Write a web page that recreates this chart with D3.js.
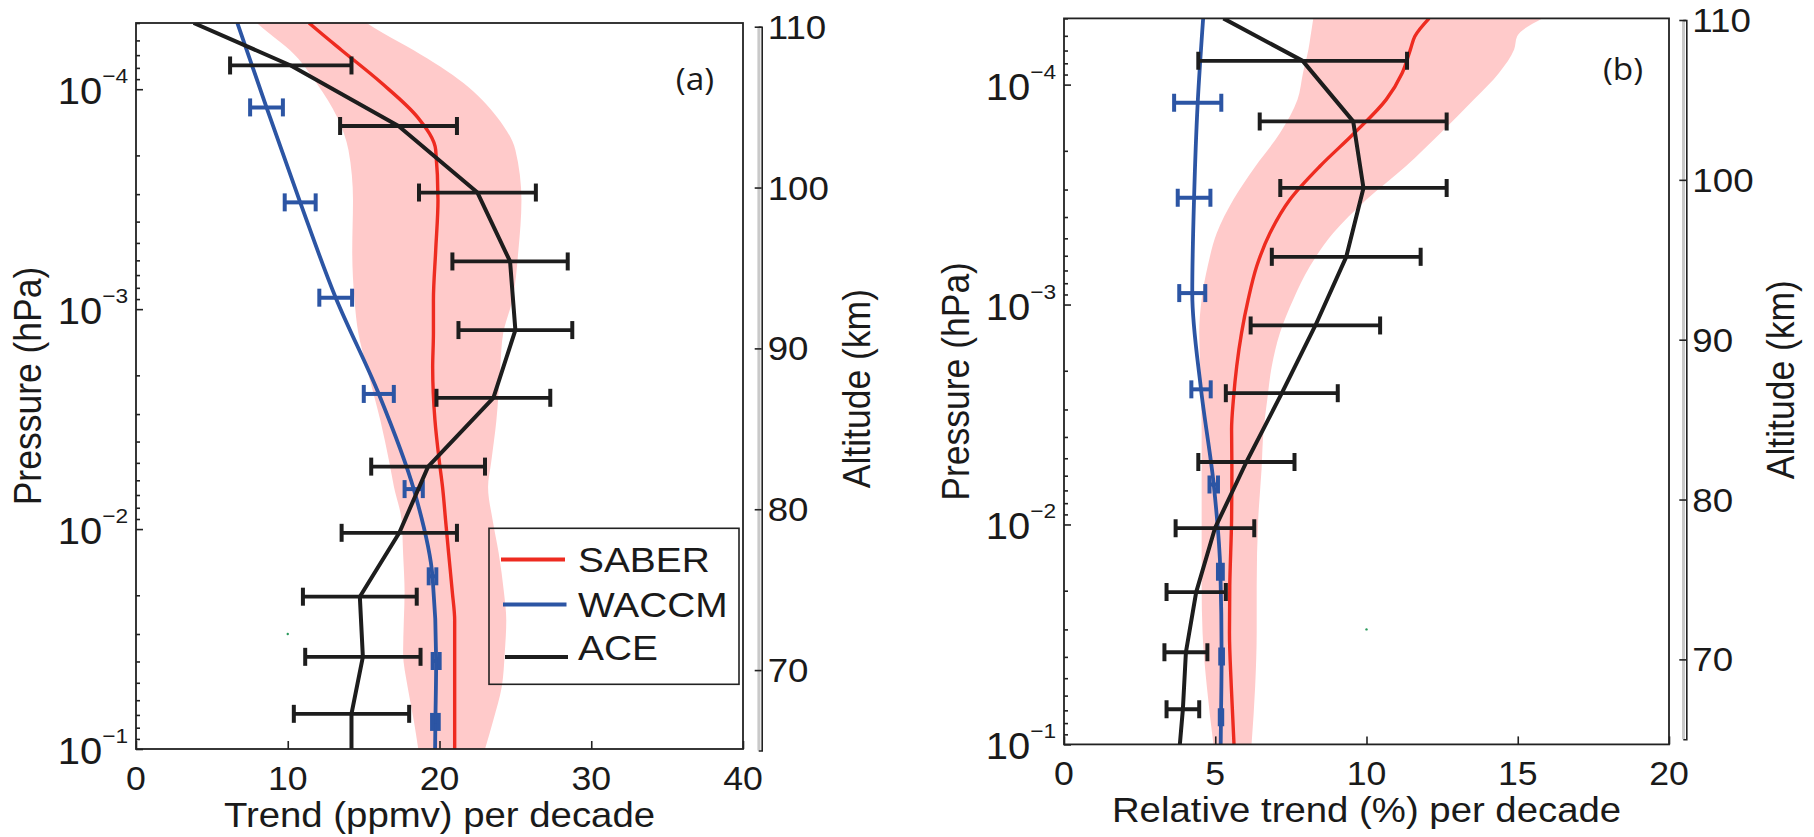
<!DOCTYPE html>
<html>
<head>
<meta charset="utf-8">
<script src="https://cdn.jsdelivr.net/npm/d3@7"></script>
<style>
  body { margin: 0; background: #fff; }
  svg { display: block; }
  text { font-family: "Liberation Sans", Arial, Helvetica, sans-serif; fill: #1a1a1a; }
</style>
</head>
<body>
<svg id="chart" width="1814" height="837"></svg>
<script>
// ---- data -------------------------------------------------------------
// pressure range of both panels (hPa) and matching altitude range (km)
const presDomain = [5e-5, 0.1];
const altDomain = [65, 110];

// ACE-FTS levels (hPa), trends and 2-sigma errors
const acePres = [7.8e-5, 1.47e-4, 2.95e-4, 6.07e-4, 1.245e-3, 2.53e-3, 5.2e-3, 1.04e-2, 2.03e-2, 3.81e-2, 6.92e-2];
const aceAbs = [10.2, 17.3, 22.5, 24.65, 25.0, 23.55, 19.25, 17.35, 14.75, 14.95, 14.2];
const aceAbsErr = [4.0, 3.85, 3.85, 3.8, 3.75, 3.75, 3.75, 3.8, 3.75, 3.8, 3.8];
const aceAbsEnds = [3.8, 14.2];          // profile values at top / bottom of the pressure range
const aceRel = [7.89, 9.56, 9.9, 9.33, 8.31, 7.2, 6.03, 4.99, 4.37, 4.03, 3.93];
const aceRelErr = [3.45, 3.09, 2.75, 2.46, 2.14, 1.85, 1.59, 1.30, 0.98, 0.71, 0.54];
const aceRelEnds = [5.27, 3.83];

// WACCM levels (hPa), trends and errors
const waccmPres = [1.21e-4, 3.27e-4, 8.87e-4, 2.43e-3, 6.58e-3, 1.64e-2, 3.98e-2, 7.53e-2];
const waccmAbs = [8.6, 10.82, 13.16, 16.0, 18.3, 19.54, 19.78, 19.73];
const waccmAbsErr = [1.08, 1.02, 1.08, 0.99, 0.6, 0.25, 0.23, 0.22];
const waccmAbsEnds = [6.68, 19.71];
const waccmRel = [4.42, 4.30, 4.24, 4.53, 4.95, 5.17, 5.21, 5.19];
const waccmRelErr = [0.78, 0.54, 0.43, 0.32, 0.14, 0.08, 0.045, 0.04];
const waccmRelEnds = [4.6, 5.18];

// SABER trend profile with its uncertainty envelope, absolute (ppmv/decade)
const saberPresAbs = [5.0e-5, 5.57e-5, 6.65e-5, 9.4e-5, 1.34e-4, 1.89e-4, 3.2e-4, 5.4e-4, 9.1e-4, 1.285e-3, 1.84e-3,
  3.2e-3, 5.0e-3, 6.44e-3, 9.1e-3, 1.285e-2, 1.95e-2, 2.6e-2, 3.66e-2, 5.22e-2, 7.38e-2, 0.1];
const saberAbs = [11.4, 12.2, 13.55, 16.2, 18.55, 19.75, 19.9, 19.75, 19.6, 19.6, 19.55,
  19.7, 20.0, 20.2, 20.4, 20.6, 20.85, 21.0, 21.0, 21.0, 21.0, 21.0];
const saberAbsLow = [7.96, 8.77, 10.15, 11.9, 13.26, 14.0, 14.3, 14.25, 14.4, 14.65, 15.2,
  16.1, 16.7, 17.0, 17.5, 17.6, 17.7, 17.65, 17.6, 17.9, 18.3, 18.6];
const saberAbsHigh = [15.2, 16.3, 18.3, 21.6, 23.8, 25.0, 25.4, 25.2, 24.8, 24.2, 24.0,
  23.75, 23.4, 23.2, 23.5, 23.9, 24.25, 24.4, 24.3, 24.1, 23.55, 23.0];

// SABER relative trend (%/decade)
const saberPresRel = [5.0e-5, 6.03e-5, 6.93e-5, 8.85e-5, 1.17e-4, 1.66e-4, 2.35e-4, 3.33e-4, 4.73e-4, 6.7e-4, 9.48e-4,
  1.345e-3, 1.905e-3, 2.7e-3, 3.7e-3, 5.62e-3, 9.48e-3, 1.91e-2, 3.11e-2, 5.43e-2, 0.1];
const saberRel = [12.07, 11.6, 11.45, 11.18, 10.65, 9.6, 8.46, 7.47, 6.81, 6.37, 6.09,
  5.87, 5.71, 5.6, 5.54, 5.55, 5.54, 5.48, 5.47, 5.53, 5.62];
const saberRelLow = [8.24, 8.15, 8.08, 7.9, 7.72, 7.14, 6.33, 5.6, 5.05, 4.75, 4.55,
  4.47, 4.5, 4.53, 4.55, 4.55, 4.55, 4.55, 4.58, 4.72, 4.94];
const saberRelHigh = [15.81, 14.98, 14.88, 14.38, 13.55, 12.45, 11.3, 10.0, 8.9, 8.13, 7.58,
  7.14, 6.87, 6.72, 6.6, 6.53, 6.42, 6.37, 6.37, 6.32, 6.2];

// stray marker point present in both panels [trend, pressure]
const strayPoint = [10, 0.03];

// axis ticks and labels
const xTicksAbs = [0, 10, 20, 30, 40];
const xTicksRel = [0, 5, 10, 15, 20];
const pressureMajor = [1e-4, 1e-3, 1e-2, 1e-1];
const altTicks = [70, 80, 90, 100, 110];
const legendNames = ["SABER", "WACCM", "ACE"];

// ---- style ------------------------------------------------------------
const COL = { saber: "#ee2b20", band: "#ffcaca", waccm: "#2c55a4", ace: "#1d1d1d", axis: "#222" };
const SX = 1.08; // horizontal stretch of the lettering

const svg = d3.select("#chart");

function label(sel, x, y, str, size, anchor, rot) {
  return sel.append("text")
    .attr("transform", `translate(${x},${y}) scale(${SX},1)` + (rot ? ` rotate(${rot})` : ""))
    .attr("text-anchor", anchor)
    .style("font-size", size + "px")
    .text(str);
}

const panels = [
  {
    id: "a", left: 136, right: 743, top: 23, bottom: 749,
    altX: 761.7, altTop: 26.7, altBottom: 750.5,
    xDomain: [0, 40], xTicks: xTicksAbs,
    xTitle: "Trend (ppmv) per decade",
    tag: "(a)", tagX: 695, tagY: 90,
    saber: { pres: saberPresAbs, v: saberAbs, lo: saberAbsLow, hi: saberAbsHigh },
    waccm: { v: waccmAbs, e: waccmAbsErr, ends: waccmAbsEnds },
    ace: { v: aceAbs, e: aceAbsErr, ends: aceAbsEnds },
    legend: true
  },
  {
    id: "b", left: 1064, right: 1669, top: 18.4, bottom: 744.4,
    altX: 1686.3, altTop: 20, altBottom: 739.3,
    xDomain: [0, 20], xTicks: xTicksRel,
    xTitle: "Relative trend (%) per decade",
    tag: "(b)", tagX: 1623, tagY: 80,
    saber: { pres: saberPresRel, v: saberRel, lo: saberRelLow, hi: saberRelHigh },
    waccm: { v: waccmRel, e: waccmRelErr, ends: waccmRelEnds },
    ace: { v: aceRel, e: aceRelErr, ends: aceRelEnds },
    legend: false
  }
];

function profile(pres, vals, ends) {
  const pts = pres.map((p, i) => ({ p, v: vals[i] }));
  return [{ p: presDomain[0], v: ends[0] }, ...pts, { p: presDomain[1], v: ends[1] }];
}

function errorBars(g, x, y, pres, vals, errs, color, width) {
  const capH = 9;
  const bars = g.append("g").attr("stroke", color).attr("fill", "none");
  pres.forEach((p, i) => {
    const yy = y(p), x0 = x(vals[i] - errs[i]), x1 = x(vals[i] + errs[i]);
    bars.append("line").attr("x1", x0).attr("x2", x1).attr("y1", yy).attr("y2", yy)
      .attr("stroke-width", width);
    [x0, x1].forEach(xc => bars.append("line")
      .attr("x1", xc).attr("x2", xc).attr("y1", yy - capH).attr("y2", yy + capH)
      .attr("stroke-width", 4));
  });
}

panels.forEach(P => {
  const x = d3.scaleLinear(P.xDomain, [P.left, P.right]);
  const y = d3.scaleLog(presDomain, [P.top, P.bottom]);
  const alt = d3.scaleLinear(altDomain, [P.altBottom, P.altTop]);
  const g = svg.append("g").attr("class", "panel-" + P.id);

  g.append("clipPath").attr("id", "clip-" + P.id)
    .append("rect").attr("x", P.left).attr("y", P.top)
    .attr("width", P.right - P.left).attr("height", P.bottom - P.top);
  const plot = g.append("g").attr("clip-path", `url(#clip-${P.id})`);

  // SABER uncertainty envelope
  const band = P.saber.pres.map((p, i) => ({ p, lo: P.saber.lo[i], hi: P.saber.hi[i] }));
  plot.append("path").datum(band)
    .attr("fill", COL.band)
    .attr("d", d3.area().curve(d3.curveMonotoneY)
      .y(d => y(d.p)).x0(d => x(d.lo)).x1(d => x(d.hi)));

  const line = d3.line().x(d => x(d.v)).y(d => y(d.p));

  // SABER profile
  plot.append("path").datum(P.saber.pres.map((p, i) => ({ p, v: P.saber.v[i] })))
    .attr("fill", "none").attr("stroke", COL.saber).attr("stroke-width", 3.4)
    .attr("d", line.curve(d3.curveMonotoneY));

  // WACCM profile with error bars
  plot.append("path").datum(profile(waccmPres, P.waccm.v, P.waccm.ends))
    .attr("fill", "none").attr("stroke", COL.waccm).attr("stroke-width", 3.8)
    .attr("d", line.curve(d3.curveMonotoneY));
  errorBars(plot, x, y, waccmPres, P.waccm.v, P.waccm.e, COL.waccm, 4);

  // ACE profile with error bars
  plot.append("path").datum(profile(acePres, P.ace.v, P.ace.ends))
    .attr("fill", "none").attr("stroke", COL.ace).attr("stroke-width", 4)
    .attr("stroke-linejoin", "round")
    .attr("d", line.curve(d3.curveLinear));
  errorBars(plot, x, y, acePres, P.ace.v, P.ace.e, COL.ace, 3.8);

  plot.append("circle").attr("cx", x(strayPoint[0])).attr("cy", y(strayPoint[1]))
    .attr("r", 1.2).attr("fill", "#2a9a5c");

  // axes: inward ticks
  const styleAxis = s => s.selectAll("line,path").attr("stroke", COL.axis).attr("stroke-width", 1.6);
  g.append("g").attr("transform", `translate(0,${P.bottom})`)
    .call(d3.axisBottom(x).tickValues(P.xTicks).tickSizeInner(-8).tickSizeOuter(0).tickFormat(""))
    .call(s => s.select(".domain").remove()).call(styleAxis);
  g.append("g").attr("transform", `translate(${P.left},0)`)
    .call(d3.axisLeft(y).tickValues(pressureMajor).tickSizeInner(-7).tickSizeOuter(0).tickFormat(""))
    .call(s => s.select(".domain").remove()).call(styleAxis);
  const minor = y.ticks().filter(v => !pressureMajor.some(m => Math.abs(m - v) / m < 1e-6));
  g.append("g").attr("transform", `translate(${P.left},0)`)
    .call(d3.axisLeft(y).tickValues(minor).tickSizeInner(-4).tickSizeOuter(0).tickFormat(""))
    .call(s => s.select(".domain").remove()).call(styleAxis);

  // plot frame
  g.append("rect").attr("x", P.left).attr("y", P.top)
    .attr("width", P.right - P.left).attr("height", P.bottom - P.top)
    .attr("fill", "none").attr("stroke", COL.axis).attr("stroke-width", 1.8);

  // x tick labels and title
  P.xTicks.forEach(v => label(g, x(v), P.bottom + 41, String(v), 33, "middle"));
  label(g, (P.left + P.right) / 2, P.bottom + 77.7, P.xTitle, 35.5, "middle");

  // pressure tick labels 10^n
  pressureMajor.forEach(v => {
    const t = g.append("text")
      .attr("transform", `translate(${P.left - 8},${y(v) + 15}) scale(${SX},1)`)
      .attr("text-anchor", "end").style("font-size", "37px");
    t.append("tspan").text("10");
    t.append("tspan").attr("dy", -21).style("font-size", "21px")
      .text("\u2212" + Math.abs(Math.round(Math.log10(v))));
  });
  label(g, P.left - 95, (P.top + P.bottom) / 2, "Pressure (hPa)", 35.5, "middle", -90);

  // altitude axis on the right
  g.append("line").attr("x1", P.altX - 2.8).attr("x2", P.altX - 2.8)
    .attr("y1", P.altTop).attr("y2", P.altBottom)
    .attr("stroke", "#c9c9c9").attr("stroke-width", 3);
  g.append("g").attr("transform", `translate(${P.altX},0)`)
    .call(d3.axisLeft(alt).tickValues(altTicks).tickSizeInner(7).tickSizeOuter(3).tickFormat(""))
    .call(styleAxis);
  altTicks.forEach(v => label(g, P.altX + 6, alt(v) + 12, String(v), 34, "start"));
  label(g, P.altX + 108, (P.altTop + P.altBottom) / 2, "Altitude (km)", 35.5, "middle", -90);

  // panel tag
  g.append("text")
    .attr("transform", `translate(${P.tagX},${P.tagY}) scale(${SX},1)`)
    .attr("text-anchor", "middle")
    .style("font-family", "'Open Sans', 'Noto Sans', sans-serif")
    .style("font-size", "31px")
    .text(P.tag);

  // legend
  if (P.legend) {
    const lg = g.append("g");
    lg.append("rect").attr("x", 489).attr("y", 528.3).attr("width", 250).attr("height", 156)
      .attr("fill", "none").attr("stroke", COL.axis).attr("stroke-width", 1.6);
    const colors = [COL.saber, COL.waccm, COL.ace];
    const lineY = [559.5, 604.5, 657];
    const textY = [571.7, 616.7, 660];
    legendNames.forEach((n, i) => {
      lg.append("line").attr("x1", 501 + i * 2).attr("x2", 565 + i * 1.5)
        .attr("y1", lineY[i]).attr("y2", lineY[i])
        .attr("stroke", colors[i]).attr("stroke-width", 4);
      label(lg, 578, textY[i], n, 36, "start");
    });
  }
});
</script>
</body>
</html>
